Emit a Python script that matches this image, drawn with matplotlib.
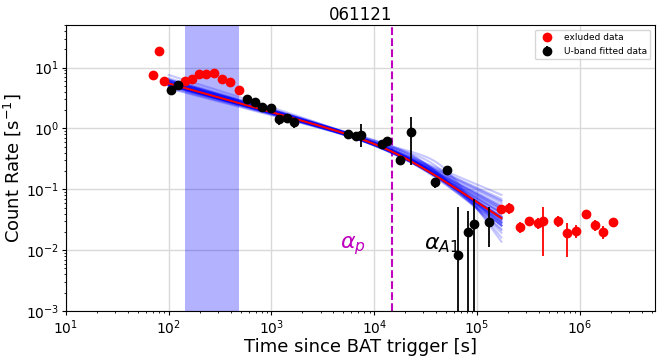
import numpy as np
import matplotlib

matplotlib.use("Agg")
import matplotlib.pyplot as plt


# Excluded (red) points
ex_t = [69.5, 80, 90, 145, 169, 196, 229, 275, 332, 397, 479,
        1.71e5, 2.06e5, 2.6e5, 3.2e5, 3.9e5, 4.44e5, 6.17e5, 7.6e5, 9.3e5,
        1.14e6, 1.40e6, 1.70e6, 2.09e6]
ex_f = [7.6, 19.0, 6.05, 6.05, 6.5, 7.9, 7.7, 8.2, 6.4, 5.7, 4.25,
        0.047, 0.049, 0.024, 0.030, 0.028, 0.030, 0.030, 0.0188, 0.021,
        0.040, 0.026, 0.020, 0.029]
ex_lo = [0.3, 0.6, 0.25, 0.25, 0.25, 0.3, 0.3, 0.3, 0.25, 0.2, 0.2,
         0.008, 0.010, 0.005, 0.005, 0.006, 0.022, 0.006, 0.011, 0.005,
         0.005, 0.005, 0.005, 0.004]
ex_hi = [0.3, 0.6, 0.25, 0.25, 0.25, 0.3, 0.3, 0.3, 0.25, 0.2, 0.2,
         0.008, 0.010, 0.005, 0.005, 0.006, 0.021, 0.006, 0.009, 0.005,
         0.005, 0.005, 0.005, 0.004]

# U-band fitted (black) points
fit_t = [105, 124, 575, 684, 812, 980, 1178, 1430, 1660, 5500, 6640, 7480,
         11900, 13300, 18000, 22700, 39100, 51100, 65400, 82400, 94200, 1.30e5]
fit_f = [4.36, 5.2, 3.0, 2.77, 2.23, 2.18, 1.41, 1.5, 1.30, 0.80, 0.74, 0.79,
         0.553, 0.628, 0.30, 0.89, 0.132, 0.205, 0.0084, 0.0195, 0.0274, 0.0291]
fit_lo = [0.2, 0.2, 0.15, 0.15, 0.1, 0.1, 0.25, 0.15, 0.3, 0.05, 0.05, 0.3,
          0.04, 0.04, 0.04, 0.64, 0.025, 0.02, 0.0083, 0.0194, 0.0273, 0.018]
fit_hi = [0.2, 0.2, 0.15, 0.15, 0.1, 0.1, 0.2, 0.15, 0.1, 0.05, 0.05, 0.4,
          0.04, 0.04, 0.04, 0.64, 0.02, 0.02, 0.043, 0.025, 0.043, 0.023]

# Best fit broken power law and posterior samples
best = dict(f0=0.84, a1=0.47, a2=1.12, tb=1.5e4)
f0_samp = [0.84, 0.88, 0.80, 0.86, 0.82, 0.89, 0.79, 0.84, 0.87, 0.81,
           0.85, 0.80, 0.84, 0.90, 0.82, 0.86, 0.84, 0.79, 0.88, 0.84,
           0.81, 0.86, 0.89, 0.80, 0.84, 0.87, 0.82, 0.85, 0.84, 0.80,
           0.87, 0.82, 0.86, 0.84, 0.89, 0.80, 0.84, 0.86, 0.82, 0.87]
a1_samp = [0.45, 0.47, 0.49, 0.46, 0.49, 0.47, 0.44, 0.50, 0.47, 0.46,
           0.48, 0.44, 0.47, 0.49, 0.46, 0.48, 0.47, 0.45, 0.51, 0.46,
           0.47, 0.48, 0.44, 0.47, 0.49, 0.46, 0.48, 0.47, 0.45, 0.47,
           0.46, 0.48, 0.47, 0.50, 0.45, 0.47, 0.46, 0.48, 0.50, 0.47]
a2_samp = [1.10, 0.95, 1.25, 1.05, 1.40, 0.85, 1.15, 1.00, 1.30, 0.90,
           1.20, 1.08, 0.80, 1.55, 1.12, 0.98, 1.35, 1.02, 0.75, 1.18,
           1.10, 0.92, 1.45, 1.06, 1.22, 0.88, 1.65, 1.14, 0.96, 1.28,
           1.04, 2.00, 1.16, 0.83, 1.32, 1.09, 2.30, 1.24, 0.94, 1.12]
tb_samp = [1.5e4, 1.2e4, 1.8e4, 1.4e4, 2.2e4, 1.1e4, 1.6e4, 1.3e4, 2.0e4, 1.2e4,
           1.7e4, 1.4e4, 1.0e4, 2.6e4, 1.5e4, 1.3e4, 2.1e4, 1.4e4, 0.9e4, 1.7e4,
           1.5e4, 1.2e4, 2.4e4, 1.4e4, 1.8e4, 1.1e4, 3.0e4, 1.6e4, 1.3e4, 1.9e4,
           1.4e4, 4.0e4, 1.6e4, 1.1e4, 2.0e4, 1.5e4, 4.5e4, 1.8e4, 1.2e4, 1.5e4]

t_model = np.logspace(2.0, np.log10(1.73e5), 200)


def bpl(t, f0, a1, a2, tb, t0=5000.0, w=3.0):
    g = lambda x: ((x / tb) ** (a1 * w) + (x / tb) ** (a2 * w)) ** (-1.0 / w)
    return f0 * g(t) / g(t0)


fig = plt.figure(figsize=(6.64, 3.58), dpi=100)
ax = fig.add_axes([0.0994, 0.1313, 0.887, 0.7987])

ax.axvspan(143, 480, color="b", alpha=0.3, lw=0, zorder=1)
ax.axvline(1.5e4, color="m", ls="--", lw=1.5, zorder=2)

# posterior draws, then best fit on top
for f0, a1, a2, tb in zip(f0_samp, a1_samp, a2_samp, tb_samp):
    ax.plot(t_model, bpl(t_model, f0, a1, a2, tb), color="b", alpha=0.22, lw=1.5, zorder=3)
ax.plot(t_model, bpl(t_model, **best), color="r", lw=1.5, zorder=4)

ax.errorbar(ex_t, ex_f, yerr=[ex_lo, ex_hi], fmt="o", color="r", ecolor="r",
            ms=6, lw=1.3, label="exluded data", zorder=5)
ax.errorbar(fit_t, fit_f, yerr=[fit_lo, fit_hi], fmt="o", color="k", ecolor="k",
            ms=6, lw=1.3, label="U-band fitted data", zorder=6)

ax.text(4600, 0.012, r"$\alpha_p$", color="m", fontsize=16, va="center", ha="left")
ax.text(30500, 0.012, r"$\alpha_{A1}$", color="k", fontsize=16, va="center", ha="left")

ax.set_xscale("log")
ax.set_yscale("log")
ax.set_xlim(10, 5.4e6)
ax.set_ylim(1e-3, 50)
ax.grid(True, which="major", color="0.85", lw=1)
ax.set_axisbelow(True)
ax.tick_params(which="major", labelsize=10, length=3, pad=2)
ax.tick_params(which="minor", length=1.5)
ax.set_title("061121", fontsize=12, pad=4)
ax.set_xlabel("Time since BAT trigger [s]", fontsize=13, labelpad=1)
ax.set_ylabel("Count Rate [s$^{-1}$]", fontsize=13, labelpad=2)
ax.legend(loc="upper right", fontsize=6.5)

fig.savefig("out.png", dpi=100)
